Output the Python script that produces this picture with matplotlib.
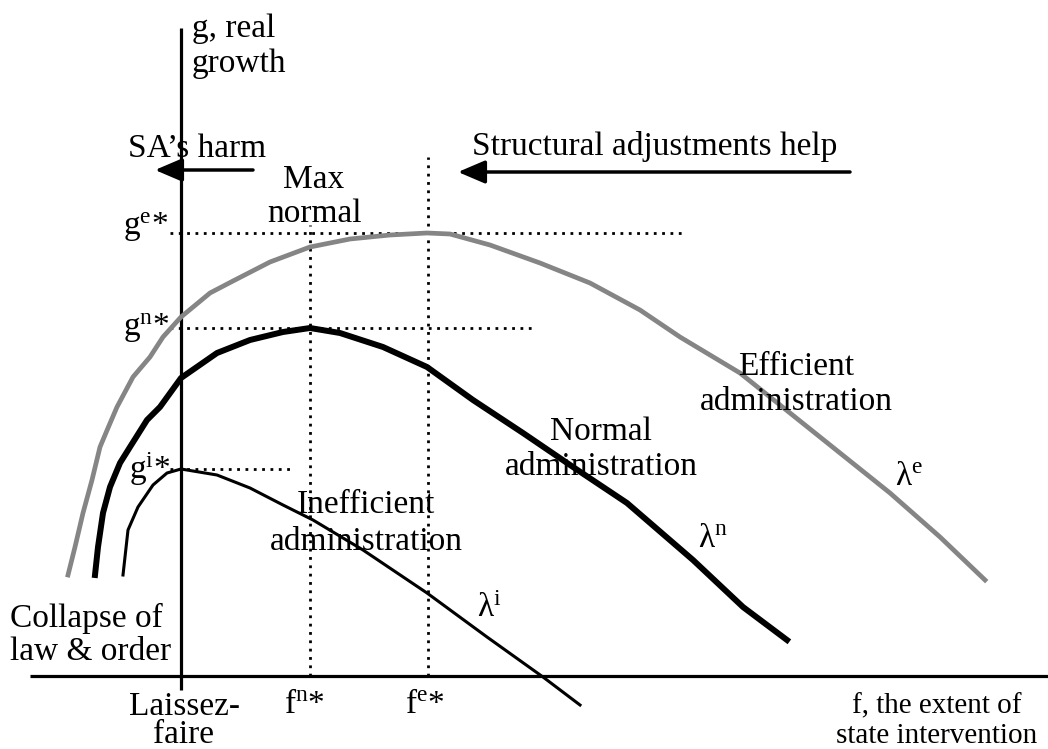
import numpy as np
import matplotlib
matplotlib.use("Agg")
import matplotlib.pyplot as plt

plt.rcParams['font.family'] = ['Liberation Serif', 'DejaVu Serif']
plt.rcParams['mathtext.fontset'] = 'custom'
plt.rcParams['mathtext.rm'] = 'Liberation Serif'
plt.rcParams['mathtext.default'] = 'regular'

# curves: f = extent of state intervention, g = real growth (arbitrary units)
f_eff = [-113, -106, -98, -89, -81, -73, -64, -48, -31, -18, 0, 29, 52, 89, 129, 169,
         209, 246, 269, 309, 359, 409, 459, 499, 559, 609, 659, 709, 759, 804]
g_eff = [101, 129, 163, 196, 229, 248, 269, 299, 319, 339, 359, 383, 395, 414, 429, 437,
         441, 443, 442, 431, 413, 393, 366, 339, 303, 263, 223, 183, 139, 96]

f_norm = [-86, -83, -78, -71, -61, -51, -34, -21, 0, 36, 69, 102, 129, 159, 202, 246,
          292, 342, 392, 446, 512, 562, 606]
g_norm = [101, 129, 163, 189, 213, 229, 256, 269, 298, 323, 336, 344, 348, 343, 329, 309,
          276, 243, 209, 173, 116, 69, 36]

f_ineff = [-58, -53, -43, -28, -14, 0, 36, 69, 102, 132, 182, 246, 306, 362, 399]
g_ineff = [101, 146, 169, 191, 203, 207, 201, 188, 171, 156, 126, 83, 39, -1, -29]

# optimum levels
g_e_star, g_n_star, g_i_star = 443, 348, 207
f_n_star, f_e_star = 129, 247

fig = plt.figure(figsize=(10.48, 7.49), dpi=100)
ax = fig.add_axes([0, 0, 1, 1])
ax.set_xlim(-181, 867)
ax.set_ylim(-73, 676)
ax.axis('off')

# axes
ax.plot([-151, 867], [0, 0], color='black', lw=2.3, solid_capstyle='butt')
ax.plot([0, 0], [-14, 648], color='black', lw=2.3, solid_capstyle='butt')

# dotted guides
dot = dict(color='black', lw=2.0, linestyle=(0, (1, 2.0)))
ax.plot([-11, 502], [g_e_star, g_e_star], **dot)
ax.plot([-11, 354], [g_n_star, g_n_star], **dot)
ax.plot([-11, 114], [g_i_star, g_i_star], **dot)
ax.plot([f_n_star, f_n_star], [0, 451], **dot)
ax.plot([f_e_star, f_e_star], [0, 519], **dot)

# curves
ax.plot(f_eff, g_eff, color='#858585', lw=3.4, solid_joinstyle='round')
ax.plot(f_norm, g_norm, color='black', lw=4.3, solid_joinstyle='round')
ax.plot(f_ineff, g_ineff, color='black', lw=2.2, solid_joinstyle='round')

# arrows
arr = dict(arrowstyle='-|>,head_length=0.75,head_width=0.32', color='black', lw=2.5,
           shrinkA=0, shrinkB=0, mutation_scale=22)
ax.annotate('', xy=(-26, 506), xytext=(72, 506), arrowprops=arr)
ax.annotate('', xy=(277, 504), xytext=(669, 504), arrowprops=arr)

fs = 24
def txt(x, y, s, ha='left', size=fs):
    ax.text(x, y, s, fontsize=size, ha=ha, va='baseline')

txt(11, 639, 'g, real')
txt(11, 604, 'growth')
txt(-53, 519, 'SA\u2019s harm')
txt(133, 488, 'Max', 'center')
txt(133, 454, 'normal', 'center')
txt(291, 521, 'Structural adjustments help')
txt(-13, 441, 'g$^{e}$*', 'right')
txt(-11, 340, 'g$^{n}$*', 'right')
txt(-11, 197, 'g$^{i}$*', 'right')
txt(615, 301, 'Efficient', 'center')
txt(615, 266, 'administration', 'center')
txt(714, 191, '\u03bb$^{e}$')
txt(420, 236, 'Normal', 'center')
txt(420, 201, 'administration', 'center')
txt(517, 129, '\u03bb$^{n}$')
txt(185, 163, 'Inefficient', 'center')
txt(185, 126, 'administration', 'center')
txt(296, 59, '\u03bb$^{i}$')
txt(-171, 49, 'Collapse of')
txt(-171, 16, 'law & order')
txt(4, -39, 'Laissez-', 'center')
txt(3, -67, 'faire', 'center')
txt(123, -37, 'f$^{n}$*', 'center')
txt(244, -37, 'f$^{e}$*', 'center')
txt(756, -37, 'f, the extent of', 'center', 21)
txt(756, -67, 'state intervention', 'center', 21)

fig.savefig('out.png', dpi=100)
